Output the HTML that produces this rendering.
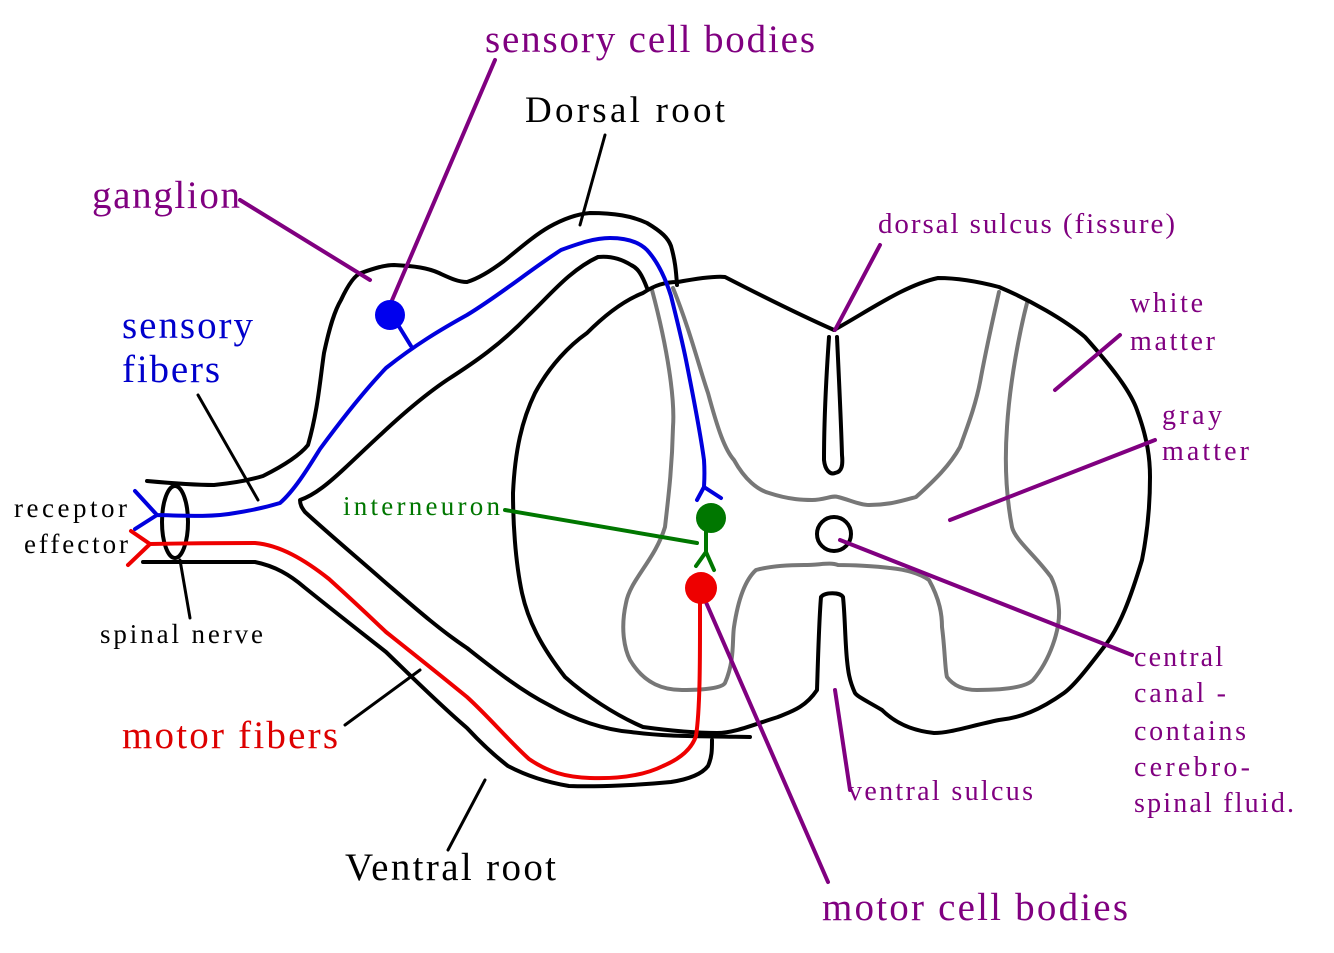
<!DOCTYPE html>
<html><head><style>
html,body{margin:0;padding:0;background:#fff;}
svg{display:block;}
text{font-family:"Liberation Serif",serif;}
</style></head><body>
<svg width="1334" height="953" viewBox="0 0 1334 953" xmlns="http://www.w3.org/2000/svg">
<rect width="1334" height="953" fill="#fff"/>
<g fill="none" stroke-linejoin="round" stroke-linecap="round">
<path d="M652,290 C668,350 675,400 673,427 C672,470 668,500 665,527 C655,560 630,580 626,603 C620,630 625,650 630,660 C645,685 665,690 682,690 C705,690 722,688 725,683 C735,660 732,640 734,627 C738,600 745,580 756,570 C775,565 795,565 804,565 C820,565 830,562 838,565 C850,565 875,566 890,568 C910,570 922,575 929,580 C940,600 942,615 942,627 C945,650 945,670 947,677 C955,688 968,690 977,690 C1000,690 1025,688 1033,680 C1050,660 1060,630 1059,610 C1058,595 1055,585 1051,577 C1035,555 1015,540 1012,527 C1005,490 1005,455 1007,427 C1010,380 1020,330 1027,303" stroke="#777" stroke-width="4"/>
<path d="M673,288 C690,330 700,370 708,393 C718,430 725,450 734,460 C745,480 758,490 769,493 C790,500 805,500 812,500 C825,500 832,495 838,497 C850,500 860,505 869,505 C890,505 905,500 916,497 C935,480 950,465 960,447 C970,420 977,400 981,377 C988,340 995,310 999,292" stroke="#777" stroke-width="4"/>
<path d="M643,293 C655,285 665,282 678,282 C700,278 715,276 725,277 C760,295 800,315 834,330 C870,310 905,285 938,278 C960,278 980,282 999,287 C1030,300 1065,320 1085,337 C1110,365 1130,390 1137,410 C1148,440 1150,460 1150,477 C1150,510 1147,535 1142,560 C1130,600 1120,625 1107,643 C1090,665 1075,685 1064,693 C1040,710 1020,718 999,720 C970,726 950,733 934,733 C905,730 890,718 882,710 C865,700 858,697 855,693 C849,680 848,670 847,660 C845,640 845,615 843,597 C840,592 825,592 821,597 C819,620 818,660 817,690 C805,708 790,712 778,717 C755,724 735,733 717,733 C690,733 665,730 643,727 C615,715 585,695 565,677 C540,645 528,620 522,593 C515,560 513,520 513,493 C515,450 522,420 535,393 C550,365 570,345 587,333 C605,315 625,300 643,293 Z" stroke="#000" stroke-width="4"/>
<path d="M829,337 C826,380 824,430 824,460 C825,470 830,475 835,473 C842,472 843,465 842,455 C841,420 839,380 837,337" stroke="#000" stroke-width="4"/>
<circle cx="834" cy="534" r="17" stroke="#000" stroke-width="4"/>
<path d="M147,481 C180,484 200,485 214,485 C235,483 250,480 263,476 C285,465 300,455 308,445 C318,410 320,380 324,353 C330,325 335,310 341,300 C348,285 355,275 361,273 C375,268 385,265 394,265 C415,266 428,268 439,273 C450,278 458,282 467,282 C480,278 492,270 504,261 C520,248 535,235 549,227 C565,218 578,214 590,213 C615,213 632,216 647,223 C662,232 668,238 671,246 C675,260 676,270 677,285" stroke="#000" stroke-width="4"/>
<path d="M647,288 C642,275 638,268 631,265 C620,258 608,256 598,257 C570,270 550,295 529,315 C500,345 475,362 447,380 C410,405 375,440 345,468 C330,482 315,495 300,500 C300,505 302,508 305,512 C330,535 360,560 386,583 C415,608 440,630 467,648 C495,670 520,690 549,705 C575,720 605,730 631,732 C660,736 680,736 750,737" stroke="#000" stroke-width="4"/>
<path d="M143,562 C190,562 225,562 255,562 C275,566 290,575 304,587 C330,608 358,630 386,652 C415,680 440,705 467,728 C480,742 495,756 508,766 C525,775 545,782 569,786 C600,787 640,785 671,782 C690,779 702,774 708,766 C712,757 712,750 712,740" stroke="#000" stroke-width="4"/>
<ellipse cx="175" cy="522" rx="13" ry="36" stroke="#000" stroke-width="4"/>
<path d="M135,491 L157,515 L135,529 M157,515 C190,516 214,517 235,513 C255,510 270,506 280,503 C295,490 310,465 320,449 C345,415 365,390 386,368 C415,345 440,330 467,315 C500,295 530,270 561,250 C580,243 595,238 610,238 C628,238 640,243 647,250 C658,262 666,280 671,296 C677,320 682,340 686,360 C693,395 700,430 704,460 C705,475 704,485 704,487 M697,500 L704,487 L721,498" stroke="#0000dd" stroke-width="4"/>
<path d="M395,320 L411,346" stroke="#0000dd" stroke-width="4"/>
<path d="M131,531 L150,544 L128,565 M150,544 C200,543 230,543 255,543 C280,545 305,560 329,579 C350,598 365,612 386,632 C415,655 440,675 467,697 C490,718 508,740 529,759 C548,772 565,777 590,778 C620,779 645,775 663,766 C682,758 692,748 696,736 C700,710 700,660 700,621 L700,600" stroke="#ee0000" stroke-width="4"/>
<path d="M505,510 L697,543 M706,530 L706,552 L696,566 M706,552 L714,570" stroke="#007700" stroke-width="4"/>
<path d="M495,60 L390,305 M240,200 L370,280 M880,245 L835,330 M1120,335 L1055,390 M1155,440 L950,520 M1132,655 L840,540 M828,882 L705,600 M835,690 L850,790" stroke="#800080" stroke-width="4"/>
<path d="M605,135 L580,225 M198,395 L258,500 M180,560 L190,618 M345,725 L420,670 M448,850 L485,780" stroke="#000" stroke-width="3"/>
</g>
<circle cx="390" cy="315" r="15" fill="#0000ee"/>
<circle cx="711" cy="518" r="15" fill="#007700"/>
<circle cx="701" cy="588" r="16" fill="#ee0000"/>
<g>
<text x="485" y="52" font-size="39" fill="#800080" textLength="330" lengthAdjust="spacing">sensory cell bodies</text>
<text x="525" y="122" font-size="37" fill="#000" textLength="200" lengthAdjust="spacing">Dorsal root</text>
<text x="92" y="208" font-size="39" fill="#800080" textLength="148" lengthAdjust="spacing">ganglion</text>
<text x="878" y="233" font-size="29" fill="#800080" textLength="297" lengthAdjust="spacing">dorsal sulcus (fissure)</text>
<text x="1130" y="312" font-size="28" fill="#800080" textLength="73" lengthAdjust="spacing">white</text>
<text x="1130" y="350" font-size="28" fill="#800080" textLength="85" lengthAdjust="spacing">matter</text>
<text x="1162" y="424" font-size="28" fill="#800080" textLength="60" lengthAdjust="spacing">gray</text>
<text x="1162" y="460" font-size="28" fill="#800080" textLength="87" lengthAdjust="spacing">matter</text>
<text x="122" y="338" font-size="39" fill="#0000cc" textLength="131" lengthAdjust="spacing">sensory</text>
<text x="122" y="382" font-size="39" fill="#0000cc" textLength="98" lengthAdjust="spacing">fibers</text>
<text x="14" y="517" font-size="27" fill="#000" textLength="113" lengthAdjust="spacing">receptor</text>
<text x="24" y="553" font-size="27" fill="#000" textLength="104" lengthAdjust="spacing">effector</text>
<text x="343" y="515" font-size="27" fill="#007700" textLength="157" lengthAdjust="spacing">interneuron</text>
<text x="100" y="643" font-size="27" fill="#000" textLength="163" lengthAdjust="spacing">spinal nerve</text>
<text x="122" y="748" font-size="39" fill="#dd0000" textLength="216" lengthAdjust="spacing">motor fibers</text>
<text x="345" y="880" font-size="39" fill="#000" textLength="211" lengthAdjust="spacing">Ventral root</text>
<text x="822" y="920" font-size="39" fill="#800080" textLength="306" lengthAdjust="spacing">motor cell bodies</text>
<text x="848" y="800" font-size="28" fill="#800080" textLength="185" lengthAdjust="spacing">ventral sulcus</text>
<text x="1134" y="666" font-size="28" fill="#800080" textLength="89" lengthAdjust="spacing">central</text>
<text x="1134" y="702" font-size="28" fill="#800080" textLength="92" lengthAdjust="spacing">canal -</text>
<text x="1134" y="740" font-size="28" fill="#800080" textLength="112" lengthAdjust="spacing">contains</text>
<text x="1134" y="776" font-size="28" fill="#800080" textLength="116" lengthAdjust="spacing">cerebro-</text>
<text x="1134" y="812" font-size="28" fill="#800080" textLength="160" lengthAdjust="spacing">spinal fluid.</text>
</g>
</svg>
</body></html>
